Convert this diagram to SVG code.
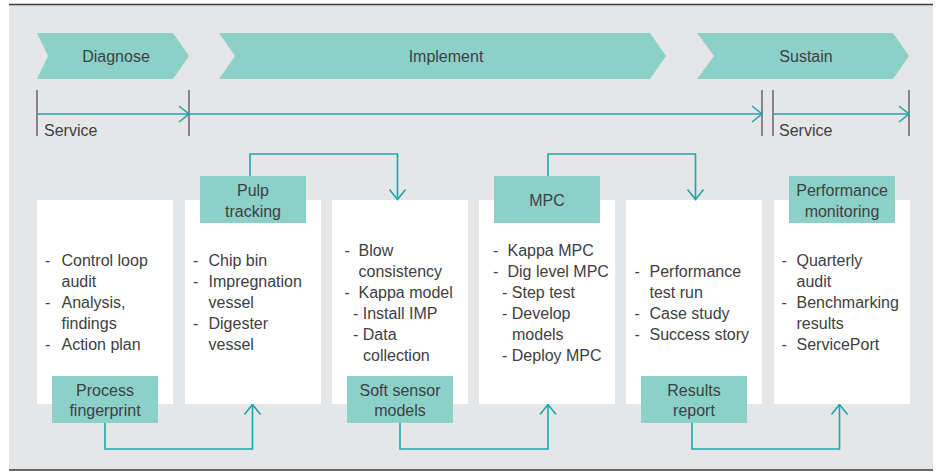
<svg xmlns="http://www.w3.org/2000/svg" width="939" height="472" viewBox="0 0 939 472">
<style>
text{font-family:"Liberation Sans",Arial,Helvetica,sans-serif;font-size:16px;fill:#3f4042}
.c{text-anchor:middle}
.chev{fill:#8bd1c8}
.box{fill:#ffffff}
.lbl{fill:#8bd1c8}
.bar{stroke:#6e6f71;stroke-width:1.6;fill:none}
.tl{stroke:#1fa6a6;stroke-width:1.6;fill:none}
</style>
<defs>
<marker id="arr" markerUnits="userSpaceOnUse" viewBox="0 0 12 18" refX="11" refY="9" markerWidth="12" markerHeight="18" orient="auto">
<path d="M1,1 L11,9 L1,17" fill="none" stroke="#1fa6a6" stroke-width="1.6"/>
</marker>
</defs>
<rect x="0" y="0" width="939" height="472" fill="#ffffff"/>
<rect x="9" y="4" width="924" height="466" fill="#e5e6e8"/>
<line x1="9" y1="4.5" x2="933" y2="4.5" stroke="#3a3a3a" stroke-width="1.5"/>
<line x1="9" y1="470" x2="933" y2="470" stroke="#3a3a3a" stroke-width="1.5"/>

<g id="phase-diagnose">
<polygon class="chev" points="37,33 173,33 189,56 173,79 37,79 48,56"/>
<text class="c" x="116" y="62">Diagnose</text>
</g>
<g id="phase-implement">
<polygon class="chev" points="219,33 650,33 666,56 650,79 219,79 235,56"/>
<text class="c" x="446" y="62">Implement</text>
</g>
<g id="phase-sustain">
<polygon class="chev" points="697,33 893,33 909,56 893,79 697,79 714,56"/>
<text class="c" x="806" y="62">Sustain</text>
</g>

<g id="service-timeline">
<line class="bar" x1="37" y1="90" x2="37" y2="136"/>
<line class="bar" x1="189" y1="90" x2="189" y2="136"/>
<line class="bar" x1="762" y1="90" x2="762" y2="136"/>
<line class="bar" x1="773" y1="90" x2="773" y2="136"/>
<line class="bar" x1="909" y1="90" x2="909" y2="136"/>
<text x="44" y="135.5">Service</text>
<text x="779" y="135.5">Service</text>
</g>

<g id="box1">
<rect class="box" x="37" y="200" width="136" height="204"/>
<text><tspan x="45" y="265.5">-</tspan><tspan x="61.5">Control loop</tspan><tspan x="61.5" y="286.5">audit</tspan><tspan x="45" y="307.5">-</tspan><tspan x="61.5">Analysis,</tspan><tspan x="61.5" y="328.5">findings</tspan><tspan x="45" y="349.5">-</tspan><tspan x="61.5">Action plan</tspan></text>
</g>
<g id="box2">
<rect class="box" x="185" y="200" width="136" height="204"/>
<text><tspan x="193" y="265.5">-</tspan><tspan x="208.5">Chip bin</tspan><tspan x="193" y="286.5">-</tspan><tspan x="208.5">Impregnation</tspan><tspan x="208.5" y="307.5">vessel</tspan><tspan x="193" y="328.5">-</tspan><tspan x="208.5">Digester</tspan><tspan x="208.5" y="349.5">vessel</tspan></text>
</g>
<g id="box3">
<rect class="box" x="332" y="200" width="136" height="204"/>
<text><tspan x="344.5" y="255.5">-</tspan><tspan x="358.5">Blow</tspan><tspan x="358.5" y="276.5">consistency</tspan><tspan x="344.5" y="297.5">-</tspan><tspan x="358.5">Kappa model</tspan><tspan x="353" y="318.5">- Install IMP</tspan><tspan x="353" y="339.5">- Data</tspan><tspan x="363" y="360.5">collection</tspan></text>
</g>
<g id="box4">
<rect class="box" x="479" y="200" width="136" height="204"/>
<text><tspan x="493" y="255.5">-</tspan><tspan x="507.5">Kappa MPC</tspan><tspan x="493" y="276.5">-</tspan><tspan x="507.5">Dig level MPC</tspan><tspan x="502" y="297.5">- Step test</tspan><tspan x="502" y="318.5">- Develop</tspan><tspan x="512" y="339.5">models</tspan><tspan x="502" y="360.5">- Deploy MPC</tspan></text>
</g>
<g id="box5">
<rect class="box" x="626" y="200" width="136" height="204"/>
<text><tspan x="634.5" y="276.5">-</tspan><tspan x="649.5">Performance</tspan><tspan x="649.5" y="297.5">test run</tspan><tspan x="634.5" y="318.5">-</tspan><tspan x="649.5">Case study</tspan><tspan x="634.5" y="339.5">-</tspan><tspan x="649.5">Success story</tspan></text>
</g>
<g id="box6">
<rect class="box" x="774" y="200" width="136" height="204"/>
<text><tspan x="781.5" y="265.5">-</tspan><tspan x="796.5">Quarterly</tspan><tspan x="796.5" y="286.5">audit</tspan><tspan x="781.5" y="307.5">-</tspan><tspan x="796.5">Benchmarking</tspan><tspan x="796.5" y="328.5">results</tspan><tspan x="781.5" y="349.5">-</tspan><tspan x="796.5">ServicePort</tspan></text>
</g>

<g id="connectors">
<line class="tl" x1="37" y1="114" x2="189" y2="114" marker-end="url(#arr)"/>
<line class="tl" x1="189" y1="114" x2="762" y2="114" marker-end="url(#arr)"/>
<line class="tl" x1="773" y1="114" x2="909" y2="114" marker-end="url(#arr)"/>
<polyline class="tl" points="250,176 250,154 397.5,154 397.5,199.5" marker-end="url(#arr)"/>
<polyline class="tl" points="548,176 548,154 695.5,154 695.5,199.5" marker-end="url(#arr)"/>
<polyline class="tl" points="105,423 105,449 252.5,449 252.5,404.5" marker-end="url(#arr)"/>
<polyline class="tl" points="400,423 400,449 548,449 548,404.5" marker-end="url(#arr)"/>
<polyline class="tl" points="692,423 692,449 839.5,449 839.5,404.5" marker-end="url(#arr)"/>
</g>

<g id="label-pulp-tracking">
<rect class="lbl" x="200" y="176" width="106" height="47"/>
<text class="c"><tspan x="253" y="195.5">Pulp</tspan><tspan x="253" y="216.5">tracking</tspan></text>
</g>
<g id="label-mpc">
<rect class="lbl" x="494" y="176" width="106" height="47"/>
<text class="c" x="547" y="206">MPC</text>
</g>
<g id="label-performance-monitoring">
<rect class="lbl" x="789" y="176" width="106" height="47"/>
<text class="c"><tspan x="842" y="195.5">Performance</tspan><tspan x="842" y="216.5">monitoring</tspan></text>
</g>
<g id="label-process-fingerprint">
<rect class="lbl" x="52" y="376" width="106" height="47"/>
<text class="c"><tspan x="105" y="395.5">Process</tspan><tspan x="105" y="416">fingerprint</tspan></text>
</g>
<g id="label-soft-sensor-models">
<rect class="lbl" x="347" y="376" width="106" height="47"/>
<text class="c"><tspan x="400" y="395.5">Soft sensor</tspan><tspan x="400" y="416">models</tspan></text>
</g>
<g id="label-results-report">
<rect class="lbl" x="641" y="376" width="106" height="47"/>
<text class="c"><tspan x="694" y="395.5">Results</tspan><tspan x="694" y="416">report</tspan></text>
</g>
</svg>
